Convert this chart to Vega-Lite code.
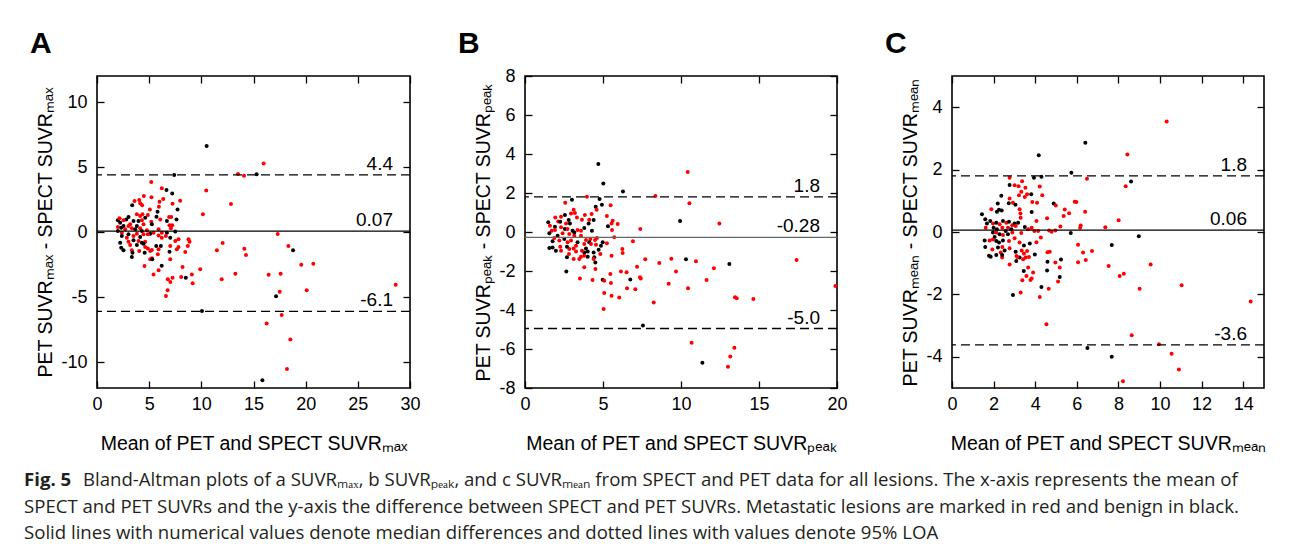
{
"$schema":"https://vega.github.io/schema/vega-lite/v6.json",
"background":"white",
"padding":{"left":24,"top":28,"right":5,"bottom":0},
"config":{
 "view":{"stroke":"#000","strokeWidth":1.6},
 "axis":{"grid":false,"domain":false,"ticks":true,"tickSize":-7,"tickWidth":1.3,"tickColor":"#000","labelFont":"Liberation Sans","labelFontSize":18,"labelColor":"#000","labelFlush":false,"labelOverlap":false,"labelExpr":"replace(datum.label, '−', '-')","titleFont":"Liberation Sans","titleFontSize":19.5,"titleFontWeight":"normal","titleColor":"#000"},
 "axisX":{"labelPadding":14.5,"titlePadding":21},
 "axisY":{"labelPadding":17,"titlePadding":5.5},
 "title":{"font":"Liberation Sans","fontSize":30,"fontWeight":"bold","anchor":"start","frame":"group","dx":-67,"color":"#000","offset":16,"baseline":"alphabetic"}
},
"datasets":{
"A":[{"x":5.2,"y":3.85,"t":"M"},{"x":6.21,"y":3.36,"t":"M"},{"x":6.66,"y":3.23,"t":"B"},{"x":7.21,"y":2.97,"t":"B"},{"x":10.47,"y":3.2,"t":"M"},{"x":4.49,"y":2.77,"t":"M"},{"x":5.22,"y":2.67,"t":"M"},{"x":6.35,"y":2.54,"t":"M"},{"x":5.99,"y":2.33,"t":"M"},{"x":7.24,"y":2.18,"t":"M"},{"x":7.97,"y":2.41,"t":"M"},{"x":3.37,"y":2.05,"t":"B"},{"x":3.6,"y":2.38,"t":"M"},{"x":4.05,"y":2.46,"t":"M"},{"x":4.14,"y":2.21,"t":"M"},{"x":4.33,"y":2.05,"t":"M"},{"x":5.93,"y":1.95,"t":"M"},{"x":5.8,"y":1.56,"t":"B"},{"x":5.07,"y":1.74,"t":"M"},{"x":7.72,"y":1.74,"t":"B"},{"x":10.15,"y":1.36,"t":"M"},{"x":7.62,"y":0.97,"t":"B"},{"x":5.7,"y":1.18,"t":"B"},{"x":6.92,"y":1.15,"t":"M"},{"x":7.11,"y":1.15,"t":"M"},{"x":6.06,"y":0.97,"t":"M"},{"x":4.87,"y":1.31,"t":"M"},{"x":4.36,"y":1.36,"t":"M"},{"x":3.82,"y":1.36,"t":"M"},{"x":4.14,"y":1.23,"t":"M"},{"x":3.02,"y":1.15,"t":"B"},{"x":2.8,"y":0.97,"t":"B"},{"x":2.54,"y":0.9,"t":"M"},{"x":2.0,"y":0.9,"t":"B"},{"x":2.16,"y":1.05,"t":"M"},{"x":2.22,"y":0.72,"t":"B"},{"x":3.18,"y":0.59,"t":"M"},{"x":3.5,"y":0.85,"t":"B"},{"x":3.98,"y":0.85,"t":"B"},{"x":4.3,"y":0.9,"t":"M"},{"x":4.62,"y":1.1,"t":"B"},{"x":5.2,"y":0.79,"t":"M"},{"x":5.26,"y":0.59,"t":"B"},{"x":4.46,"y":0.59,"t":"M"},{"x":3.82,"y":0.46,"t":"B"},{"x":3.02,"y":0.46,"t":"M"},{"x":2.54,"y":0.46,"t":"B"},{"x":2.0,"y":0.38,"t":"M"},{"x":2.32,"y":0.33,"t":"B"},{"x":2.7,"y":0.21,"t":"M"},{"x":3.34,"y":0.28,"t":"M"},{"x":3.66,"y":0.21,"t":"B"},{"x":4.14,"y":0.28,"t":"M"},{"x":4.3,"y":0.08,"t":"B"},{"x":4.78,"y":0.13,"t":"M"},{"x":5.9,"y":0.21,"t":"M"},{"x":6.7,"y":0.85,"t":"B"},{"x":6.95,"y":0.51,"t":"M"},{"x":7.21,"y":0.51,"t":"M"},{"x":7.5,"y":0.03,"t":"B"},{"x":7.08,"y":0.28,"t":"M"},{"x":6.7,"y":-0.05,"t":"B"},{"x":6.21,"y":-0.05,"t":"M"},{"x":5.42,"y":-0.05,"t":"M"},{"x":5.1,"y":-0.13,"t":"B"},{"x":4.46,"y":-0.18,"t":"M"},{"x":3.82,"y":-0.13,"t":"M"},{"x":3.02,"y":-0.18,"t":"B"},{"x":2.38,"y":-0.05,"t":"M"},{"x":2.0,"y":0.08,"t":"B"},{"x":2.38,"y":-0.31,"t":"B"},{"x":2.86,"y":-0.44,"t":"M"},{"x":3.5,"y":-0.31,"t":"M"},{"x":4.14,"y":-0.38,"t":"B"},{"x":4.87,"y":-0.18,"t":"M"},{"x":5.9,"y":-0.26,"t":"M"},{"x":6.6,"y":-0.31,"t":"M"},{"x":6.21,"y":-0.44,"t":"M"},{"x":7.02,"y":-0.44,"t":"B"},{"x":7.5,"y":-0.69,"t":"M"},{"x":7.81,"y":-0.56,"t":"M"},{"x":2.22,"y":-0.82,"t":"B"},{"x":3.02,"y":-0.75,"t":"M"},{"x":3.5,"y":-0.64,"t":"B"},{"x":3.98,"y":-0.69,"t":"M"},{"x":4.3,"y":-0.82,"t":"B"},{"x":4.62,"y":-0.75,"t":"M"},{"x":3.18,"y":-1.0,"t":"M"},{"x":3.82,"y":-1.0,"t":"B"},{"x":4.46,"y":-0.9,"t":"B"},{"x":2.32,"y":-1.21,"t":"B"},{"x":2.54,"y":-1.41,"t":"B"},{"x":3.34,"y":-1.41,"t":"M"},{"x":3.4,"y":-1.59,"t":"B"},{"x":4.05,"y":-1.46,"t":"M"},{"x":3.34,"y":-1.92,"t":"B"},{"x":4.62,"y":-1.15,"t":"M"},{"x":4.87,"y":-1.26,"t":"M"},{"x":5.1,"y":-1.46,"t":"M"},{"x":5.68,"y":-1.08,"t":"B"},{"x":6.12,"y":-1.08,"t":"B"},{"x":5.9,"y":-1.33,"t":"M"},{"x":5.26,"y":-1.38,"t":"M"},{"x":7.02,"y":-1.08,"t":"M"},{"x":6.95,"y":-1.51,"t":"B"},{"x":7.65,"y":-1.33,"t":"M"},{"x":7.81,"y":-1.15,"t":"M"},{"x":8.77,"y":-0.56,"t":"M"},{"x":8.87,"y":-0.75,"t":"M"},{"x":8.7,"y":-1.08,"t":"M"},{"x":8.46,"y":-1.54,"t":"M"},{"x":5.83,"y":-1.72,"t":"M"},{"x":5.1,"y":-2.1,"t":"M"},{"x":5.26,"y":-2.02,"t":"M"},{"x":7.02,"y":-2.1,"t":"M"},{"x":4.55,"y":-2.62,"t":"M"},{"x":5.9,"y":-2.95,"t":"M"},{"x":5.42,"y":-3.26,"t":"M"},{"x":6.79,"y":-3.64,"t":"M"},{"x":8.2,"y":-2.69,"t":"M"},{"x":9.09,"y":-3.26,"t":"M"},{"x":9.89,"y":-2.87,"t":"M"},{"x":11.49,"y":-1.41,"t":"M"},{"x":8.51,"y":-3.51,"t":"B"},{"x":7.24,"y":-3.51,"t":"M"},{"x":8.07,"y":-3.46,"t":"M"},{"x":7.4,"y":4.38,"t":"B"},{"x":6.2,"y":-2.59,"t":"B"},{"x":5.3,"y":-2.1,"t":"B"},{"x":4.57,"y":-1.59,"t":"B"},{"x":10.51,"y":6.62,"t":"B"},{"x":15.3,"y":4.44,"t":"B"},{"x":18.79,"y":-1.41,"t":"B"},{"x":17.16,"y":-4.95,"t":"B"},{"x":10.06,"y":-6.08,"t":"B"},{"x":15.85,"y":-11.41,"t":"B"},{"x":15.97,"y":5.26,"t":"M"},{"x":13.51,"y":4.46,"t":"M"},{"x":14.09,"y":4.33,"t":"M"},{"x":17.32,"y":-0.15,"t":"M"},{"x":18.34,"y":-1.08,"t":"M"},{"x":19.58,"y":-2.51,"t":"M"},{"x":20.73,"y":-2.44,"t":"M"},{"x":28.63,"y":-4.05,"t":"M"},{"x":20.1,"y":-4.49,"t":"M"},{"x":17.6,"y":-3.21,"t":"M"},{"x":16.45,"y":-3.28,"t":"M"},{"x":17.51,"y":-4.59,"t":"M"},{"x":17.7,"y":-6.38,"t":"M"},{"x":16.26,"y":-7.03,"t":"M"},{"x":18.53,"y":-8.26,"t":"M"},{"x":18.21,"y":-10.54,"t":"M"},{"x":14.12,"y":-1.28,"t":"M"},{"x":14.28,"y":-1.77,"t":"M"},{"x":13.26,"y":-3.21,"t":"M"},{"x":12.04,"y":-0.85,"t":"M"},{"x":11.95,"y":-3.64,"t":"M"},{"x":12.84,"y":2.15,"t":"M"},{"x":9.17,"y":-3.95,"t":"M"},{"x":6.77,"y":-4.49,"t":"M"},{"x":6.61,"y":-4.92,"t":"M"},{"x":7.03,"y":-3.85,"t":"M"}],
"B":[{"x":5.02,"y":2.49,"t":"B"},{"x":6.28,"y":2.08,"t":"B"},{"x":3.01,"y":1.66,"t":"B"},{"x":3.97,"y":1.81,"t":"M"},{"x":4.78,"y":1.69,"t":"B"},{"x":4.93,"y":1.4,"t":"B"},{"x":5.49,"y":1.37,"t":"M"},{"x":4.53,"y":1.3,"t":"B"},{"x":2.58,"y":1.5,"t":"M"},{"x":3.12,"y":1.14,"t":"M"},{"x":3.2,"y":0.97,"t":"M"},{"x":2.95,"y":0.95,"t":"M"},{"x":2.56,"y":0.87,"t":"B"},{"x":2.31,"y":0.78,"t":"M"},{"x":3.33,"y":0.75,"t":"M"},{"x":3.84,"y":0.87,"t":"M"},{"x":4.27,"y":0.92,"t":"M"},{"x":4.59,"y":1.14,"t":"M"},{"x":4.4,"y":0.61,"t":"B"},{"x":4.12,"y":0.63,"t":"M"},{"x":3.65,"y":0.63,"t":"M"},{"x":4.08,"y":0.44,"t":"B"},{"x":5.25,"y":0.82,"t":"M"},{"x":5.32,"y":0.3,"t":"B"},{"x":5.62,"y":0.58,"t":"M"},{"x":5.55,"y":0.44,"t":"M"},{"x":5.94,"y":0.41,"t":"M"},{"x":5.58,"y":0.1,"t":"M"},{"x":2.8,"y":0.61,"t":"B"},{"x":2.63,"y":0.44,"t":"M"},{"x":2.88,"y":0.44,"t":"B"},{"x":1.94,"y":0.75,"t":"M"},{"x":2.13,"y":0.54,"t":"M"},{"x":1.49,"y":0.5,"t":"B"},{"x":2.26,"y":0.52,"t":"B"},{"x":1.92,"y":0.27,"t":"B"},{"x":1.6,"y":0.32,"t":"M"},{"x":1.71,"y":0.07,"t":"M"},{"x":1.56,"y":-0.07,"t":"B"},{"x":1.92,"y":0.1,"t":"M"},{"x":2.31,"y":0.24,"t":"M"},{"x":2.56,"y":0.15,"t":"B"},{"x":2.73,"y":0.15,"t":"M"},{"x":3.05,"y":0.07,"t":"B"},{"x":3.37,"y":0.1,"t":"M"},{"x":3.59,"y":0.07,"t":"M"},{"x":3.8,"y":0.2,"t":"B"},{"x":4.29,"y":0.07,"t":"B"},{"x":2.41,"y":-0.07,"t":"M"},{"x":2.84,"y":-0.1,"t":"M"},{"x":3.16,"y":-0.19,"t":"M"},{"x":3.16,"y":-0.02,"t":"B"},{"x":3.59,"y":-0.19,"t":"M"},{"x":3.91,"y":-0.41,"t":"M"},{"x":4.19,"y":-0.36,"t":"M"},{"x":4.49,"y":-0.41,"t":"M"},{"x":4.61,"y":-0.31,"t":"M"},{"x":5.72,"y":-0.27,"t":"M"},{"x":6.92,"y":-0.48,"t":"M"},{"x":2.09,"y":-0.19,"t":"B"},{"x":1.88,"y":-0.31,"t":"M"},{"x":1.77,"y":-0.48,"t":"B"},{"x":2.2,"y":-0.44,"t":"M"},{"x":2.52,"y":-0.36,"t":"B"},{"x":2.73,"y":-0.53,"t":"M"},{"x":2.95,"y":-0.44,"t":"M"},{"x":3.37,"y":-0.53,"t":"B"},{"x":3.27,"y":-0.7,"t":"M"},{"x":3.8,"y":-0.62,"t":"M"},{"x":4.12,"y":-0.53,"t":"B"},{"x":4.23,"y":-0.62,"t":"M"},{"x":4.55,"y":-0.65,"t":"M"},{"x":4.98,"y":-0.53,"t":"B"},{"x":5.25,"y":-0.58,"t":"M"},{"x":4.87,"y":-0.7,"t":"B"},{"x":4.72,"y":-0.91,"t":"B"},{"x":4.83,"y":-1.13,"t":"M"},{"x":4.4,"y":-1.05,"t":"B"},{"x":4.02,"y":-1.0,"t":"B"},{"x":3.91,"y":-0.84,"t":"B"},{"x":3.8,"y":-1.05,"t":"B"},{"x":3.65,"y":-0.96,"t":"M"},{"x":3.12,"y":-0.84,"t":"M"},{"x":3.27,"y":-1.0,"t":"M"},{"x":2.84,"y":-0.87,"t":"M"},{"x":2.69,"y":-0.75,"t":"B"},{"x":2.26,"y":-0.75,"t":"M"},{"x":1.56,"y":-0.82,"t":"B"},{"x":1.77,"y":-0.79,"t":"B"},{"x":1.98,"y":-0.96,"t":"B"},{"x":2.31,"y":-0.96,"t":"M"},{"x":2.82,"y":-1.13,"t":"M"},{"x":2.69,"y":-1.3,"t":"B"},{"x":3.12,"y":-1.39,"t":"M"},{"x":4.44,"y":-1.3,"t":"B"},{"x":4.51,"y":-1.56,"t":"B"},{"x":4.02,"y":-1.27,"t":"B"},{"x":3.48,"y":-1.39,"t":"M"},{"x":3.59,"y":-1.27,"t":"M"},{"x":3.8,"y":-1.22,"t":"M"},{"x":4.4,"y":-1.39,"t":"M"},{"x":5.55,"y":-1.22,"t":"M"},{"x":6.24,"y":-0.87,"t":"M"},{"x":6.26,"y":-1.08,"t":"M"},{"x":2.65,"y":-2.02,"t":"B"},{"x":3.8,"y":-1.81,"t":"M"},{"x":4.51,"y":-1.9,"t":"M"},{"x":5.47,"y":-2.15,"t":"M"},{"x":6.15,"y":-2.02,"t":"M"},{"x":6.75,"y":-2.43,"t":"B"},{"x":6.51,"y":-2.07,"t":"M"},{"x":7.37,"y":-2.32,"t":"M"},{"x":3.52,"y":-2.39,"t":"M"},{"x":4.33,"y":-2.46,"t":"M"},{"x":4.98,"y":-2.45,"t":"B"},{"x":5.08,"y":-2.5,"t":"M"},{"x":5.51,"y":-2.62,"t":"M"},{"x":6.54,"y":-2.88,"t":"M"},{"x":7.07,"y":-2.93,"t":"M"},{"x":5.08,"y":-3.13,"t":"M"},{"x":5.55,"y":-3.27,"t":"M"},{"x":6.04,"y":-3.36,"t":"M"},{"x":7.39,"y":0.15,"t":"M"},{"x":4.7,"y":3.49,"t":"B"},{"x":8.36,"y":1.85,"t":"M"},{"x":10.43,"y":3.08,"t":"M"},{"x":10.54,"y":1.47,"t":"M"},{"x":9.94,"y":0.56,"t":"B"},{"x":12.46,"y":0.43,"t":"M"},{"x":17.41,"y":-1.44,"t":"M"},{"x":7.71,"y":-1.4,"t":"M"},{"x":8.61,"y":-1.59,"t":"M"},{"x":9.38,"y":-1.37,"t":"M"},{"x":10.32,"y":-1.4,"t":"B"},{"x":10.96,"y":-1.5,"t":"M"},{"x":12.11,"y":-1.86,"t":"M"},{"x":13.1,"y":-1.64,"t":"B"},{"x":9.68,"y":-2.03,"t":"M"},{"x":9.21,"y":-2.65,"t":"M"},{"x":10.45,"y":-2.89,"t":"M"},{"x":11.64,"y":-2.46,"t":"M"},{"x":8.25,"y":-3.61,"t":"M"},{"x":13.46,"y":-3.35,"t":"M"},{"x":13.57,"y":-3.4,"t":"M"},{"x":14.64,"y":-3.44,"t":"M"},{"x":7.56,"y":-4.79,"t":"B"},{"x":5.04,"y":-3.95,"t":"M"},{"x":7.18,"y":-1.78,"t":"M"},{"x":7.42,"y":-2.39,"t":"M"},{"x":10.68,"y":-5.68,"t":"M"},{"x":13.42,"y":-5.93,"t":"M"},{"x":13.16,"y":-6.38,"t":"M"},{"x":13.01,"y":-6.91,"t":"M"},{"x":11.37,"y":-6.7,"t":"B"},{"x":19.9,"y":-2.77,"t":"M"}],
"C":[{"x":5.74,"y":1.9,"t":"B"},{"x":2.77,"y":1.74,"t":"M"},{"x":3.94,"y":1.74,"t":"B"},{"x":4.3,"y":1.77,"t":"B"},{"x":3.37,"y":1.63,"t":"M"},{"x":2.77,"y":1.51,"t":"B"},{"x":3.01,"y":1.5,"t":"M"},{"x":3.2,"y":1.47,"t":"M"},{"x":4.22,"y":1.46,"t":"M"},{"x":3.53,"y":1.42,"t":"M"},{"x":3.33,"y":1.29,"t":"M"},{"x":3.22,"y":1.18,"t":"M"},{"x":3.61,"y":1.21,"t":"M"},{"x":3.81,"y":1.21,"t":"B"},{"x":3.5,"y":1.12,"t":"M"},{"x":4.34,"y":1.18,"t":"M"},{"x":2.37,"y":1.16,"t":"B"},{"x":2.77,"y":1.07,"t":"M"},{"x":2.73,"y":0.92,"t":"B"},{"x":2.2,"y":0.91,"t":"B"},{"x":2.26,"y":0.71,"t":"B"},{"x":2.39,"y":0.69,"t":"B"},{"x":2.16,"y":0.65,"t":"B"},{"x":2.93,"y":0.94,"t":"M"},{"x":3.05,"y":0.87,"t":"B"},{"x":3.25,"y":0.73,"t":"M"},{"x":3.29,"y":0.59,"t":"M"},{"x":3.3,"y":0.46,"t":"M"},{"x":3.83,"y":0.64,"t":"B"},{"x":3.86,"y":0.96,"t":"M"},{"x":4.09,"y":0.94,"t":"M"},{"x":4.89,"y":0.91,"t":"B"},{"x":4.99,"y":0.85,"t":"M"},{"x":5.42,"y":0.72,"t":"M"},{"x":5.63,"y":0.6,"t":"M"},{"x":5.37,"y":0.51,"t":"M"},{"x":5.9,"y":0.97,"t":"M"},{"x":4.57,"y":0.44,"t":"M"},{"x":4.06,"y":0.35,"t":"M"},{"x":5.21,"y":0.18,"t":"M"},{"x":4.67,"y":0.05,"t":"M"},{"x":4.79,"y":0.01,"t":"M"},{"x":4.97,"y":0.05,"t":"M"},{"x":3.96,"y":0.03,"t":"M"},{"x":4.14,"y":0.03,"t":"M"},{"x":3.83,"y":0.14,"t":"M"},{"x":3.66,"y":0.09,"t":"M"},{"x":3.5,"y":0.16,"t":"B"},{"x":3.33,"y":-0.03,"t":"M"},{"x":5.71,"y":-0.03,"t":"B"},{"x":1.44,"y":0.57,"t":"B"},{"x":1.6,"y":0.41,"t":"B"},{"x":1.89,"y":0.73,"t":"M"},{"x":1.84,"y":0.35,"t":"B"},{"x":1.68,"y":0.27,"t":"B"},{"x":1.97,"y":0.27,"t":"M"},{"x":2.13,"y":0.3,"t":"B"},{"x":2.29,"y":0.25,"t":"M"},{"x":2.45,"y":0.35,"t":"B"},{"x":2.61,"y":0.3,"t":"M"},{"x":2.74,"y":0.33,"t":"B"},{"x":2.9,"y":0.22,"t":"M"},{"x":3.01,"y":0.27,"t":"B"},{"x":3.18,"y":0.3,"t":"B"},{"x":1.62,"y":0.14,"t":"M"},{"x":2.0,"y":0.14,"t":"B"},{"x":2.16,"y":0.09,"t":"B"},{"x":2.42,"y":0.14,"t":"M"},{"x":2.58,"y":0.03,"t":"B"},{"x":2.69,"y":0.14,"t":"M"},{"x":2.85,"y":0.09,"t":"B"},{"x":3.06,"y":0.19,"t":"M"},{"x":1.97,"y":-0.02,"t":"B"},{"x":2.13,"y":-0.02,"t":"M"},{"x":2.29,"y":-0.07,"t":"B"},{"x":2.45,"y":-0.1,"t":"M"},{"x":2.69,"y":-0.07,"t":"B"},{"x":2.9,"y":-0.02,"t":"M"},{"x":2.05,"y":-0.16,"t":"B"},{"x":1.97,"y":-0.24,"t":"M"},{"x":2.13,"y":-0.29,"t":"B"},{"x":2.26,"y":-0.34,"t":"B"},{"x":1.57,"y":-0.27,"t":"B"},{"x":1.81,"y":-0.27,"t":"M"},{"x":2.45,"y":-0.27,"t":"B"},{"x":2.74,"y":-0.29,"t":"M"},{"x":3.01,"y":-0.2,"t":"M"},{"x":3.25,"y":-0.34,"t":"M"},{"x":3.46,"y":-0.43,"t":"B"},{"x":3.74,"y":-0.37,"t":"B"},{"x":4.06,"y":-0.33,"t":"M"},{"x":4.27,"y":-0.18,"t":"M"},{"x":1.6,"y":-0.48,"t":"B"},{"x":1.94,"y":-0.56,"t":"M"},{"x":2.21,"y":-0.5,"t":"B"},{"x":2.42,"y":-0.48,"t":"M"},{"x":2.53,"y":-0.59,"t":"B"},{"x":2.34,"y":-0.66,"t":"M"},{"x":2.77,"y":-0.52,"t":"M"},{"x":3.06,"y":-0.63,"t":"B"},{"x":3.1,"y":-0.77,"t":"M"},{"x":3.35,"y":-0.59,"t":"M"},{"x":3.46,"y":-0.69,"t":"M"},{"x":3.61,"y":-0.61,"t":"M"},{"x":3.98,"y":-0.72,"t":"B"},{"x":4.59,"y":-0.65,"t":"M"},{"x":4.7,"y":-0.63,"t":"M"},{"x":1.78,"y":-0.76,"t":"B"},{"x":1.86,"y":-0.79,"t":"B"},{"x":2.13,"y":-0.74,"t":"B"},{"x":2.41,"y":-0.82,"t":"M"},{"x":2.41,"y":-0.74,"t":"B"},{"x":3.25,"y":-0.82,"t":"B"},{"x":3.14,"y":-0.8,"t":"M"},{"x":3.42,"y":-0.87,"t":"M"},{"x":3.54,"y":-0.82,"t":"M"},{"x":3.7,"y":-0.8,"t":"M"},{"x":3.09,"y":-0.93,"t":"B"},{"x":2.77,"y":-1.04,"t":"M"},{"x":3.66,"y":-1.14,"t":"M"},{"x":4.59,"y":-0.95,"t":"B"},{"x":4.97,"y":-0.98,"t":"M"},{"x":5.24,"y":-0.88,"t":"B"},{"x":5.18,"y":-1.14,"t":"M"},{"x":4.57,"y":-1.23,"t":"B"},{"x":3.45,"y":-1.25,"t":"B"},{"x":3.9,"y":-1.3,"t":"M"},{"x":3.58,"y":-1.41,"t":"M"},{"x":3.83,"y":-1.49,"t":"M"},{"x":3.77,"y":-1.54,"t":"M"},{"x":3.38,"y":-1.55,"t":"M"},{"x":5.18,"y":-1.44,"t":"B"},{"x":5.1,"y":-1.59,"t":"M"},{"x":4.3,"y":-1.76,"t":"B"},{"x":4.65,"y":-1.82,"t":"M"},{"x":3.3,"y":-1.94,"t":"M"},{"x":2.93,"y":-2.02,"t":"B"},{"x":4.22,"y":-2.08,"t":"M"},{"x":4.17,"y":2.46,"t":"B"},{"x":6.41,"y":2.86,"t":"B"},{"x":10.32,"y":3.54,"t":"M"},{"x":8.43,"y":2.48,"t":"M"},{"x":8.35,"y":1.47,"t":"M"},{"x":8.61,"y":1.62,"t":"B"},{"x":6.49,"y":1.71,"t":"M"},{"x":6.4,"y":0.65,"t":"M"},{"x":5.98,"y":0.96,"t":"M"},{"x":6.19,"y":0.21,"t":"M"},{"x":6.16,"y":0.14,"t":"M"},{"x":7.37,"y":0.15,"t":"M"},{"x":8.01,"y":0.38,"t":"M"},{"x":8.98,"y":-0.14,"t":"B"},{"x":6.06,"y":-0.41,"t":"M"},{"x":7.68,"y":-0.42,"t":"B"},{"x":6.3,"y":-0.66,"t":"M"},{"x":6.73,"y":-0.61,"t":"M"},{"x":6.06,"y":-0.97,"t":"M"},{"x":6.43,"y":-0.9,"t":"M"},{"x":7.53,"y":-1.09,"t":"M"},{"x":8.06,"y":-1.41,"t":"M"},{"x":8.26,"y":-1.34,"t":"M"},{"x":9.55,"y":-1.04,"t":"M"},{"x":9.02,"y":-1.82,"t":"M"},{"x":11.04,"y":-1.71,"t":"M"},{"x":14.36,"y":-2.23,"t":"M"},{"x":4.54,"y":-2.96,"t":"M"},{"x":8.64,"y":-3.31,"t":"M"},{"x":6.51,"y":-3.72,"t":"B"},{"x":7.68,"y":-4.0,"t":"B"},{"x":9.95,"y":-3.6,"t":"M"},{"x":10.56,"y":-3.9,"t":"M"},{"x":10.91,"y":-4.41,"t":"M"},{"x":8.22,"y":-4.78,"t":"M"}],
"LA":[{"v":4.4,"kind":"LOA","label":"4.4"},{"v":0.07,"kind":"median","label":"0.07"},{"v":-6.1,"kind":"LOA","label":"-6.1"}],
"LB":[{"v":1.8,"kind":"LOA","label":"1.8"},{"v":-0.28,"kind":"median","label":"-0.28"},{"v":-4.95,"kind":"LOA","label":"-5.0"}],
"LC":[{"v":1.8,"kind":"LOA","label":"1.8"},{"v":0.06,"kind":"median","label":"0.06"},{"v":-3.62,"kind":"LOA","label":"-3.6"}],
"CAP1":[{"line":1,"text":"Fig. 5"}],
"CAP2":[{"line":1,"text":"Bland-Altman plots of a SUVRₘₐₓ, b SUVRₚₑₐₖ, and c SUVRₘₑₐₙ from SPECT and PET data for all lesions. The x-axis represents the mean of"}],
"CAP3":[{"line":2,"text":"SPECT and PET SUVRs and the y-axis the difference between SPECT and PET SUVRs. Metastatic lesions are marked in red and benign in black."},{"line":3,"text":"Solid lines with numerical values denote median differences and dotted lines with values denote 95% LOA"}]
},
"vconcat":[
{"hconcat":[
 {"width":313,"height":312,"title":{"text":"A"},
  "layer":[
   {"data":{"name":"A"},"mark":{"type":"circle","size":16,"opacity":1},
    "encoding":{
     "x":{"field":"x","type":"quantitative","scale":{"domain":[0,30],"nice":false,"zero":false},"axis":{"values":[0,5,10,15,20,25,30],"title":"Mean of PET and SPECT SUVRₘₐₓ"}},
     "y":{"field":"y","type":"quantitative","scale":{"domain":[-12,12],"nice":false,"zero":false},"axis":{"values":[-10,-5,0,5,10],"title":"PET SUVRₘₐₓ - SPECT SUVRₘₐₓ"}},
     "color":{"field":"t","type":"nominal","scale":{"domain":["M","B"],"range":["#ff0000","#000000"]},"legend":null}}},
   {"data":{"name":"LA"},"mark":{"type":"rule","strokeWidth":1.3,"color":"#000"},
    "encoding":{"y":{"field":"v","type":"quantitative","axis":null},
     "strokeDash":{"field":"kind","type":"nominal","scale":{"domain":["median","LOA"],"range":[[1,0],[9,5]]},"legend":null}}},
   {"data":{"name":"LA"},"mark":{"type":"text","align":"right","baseline":"alphabetic","dx":-17,"dy":-5,"font":"Liberation Sans","fontSize":19,"color":"#000"},
    "encoding":{"x":{"datum":30,"type":"quantitative","axis":{"orient":"top","labels":false,"values":[0,5,10,15,20,25,30],"title":null}},
     "y":{"field":"v","type":"quantitative","axis":{"orient":"right","labels":false,"values":[-10,-5,0,5,10],"title":null}},
     "text":{"field":"label"}}}
  ],
  "resolve":{"axis":{"x":"independent","y":"independent"}}},
 {"width":312,"height":312,"title":{"text":"B","offset":8},
  "layer":[
   {"data":{"name":"B"},"mark":{"type":"circle","size":16,"opacity":1},
    "encoding":{
     "x":{"field":"x","type":"quantitative","scale":{"domain":[0,20],"nice":false,"zero":false},"axis":{"values":[0,5,10,15,20],"title":"Mean of PET and SPECT SUVRₚₑₐₖ"}},
     "y":{"field":"y","type":"quantitative","scale":{"domain":[-8,8],"nice":false,"zero":false},"axis":{"values":[-8,-6,-4,-2,0,2,4,6,8],"title":"PET SUVRₚₑₐₖ - SPECT SUVRₚₑₐₖ"}},
     "color":{"field":"t","type":"nominal","scale":{"domain":["M","B"],"range":["#ff0000","#000000"]},"legend":null}}},
   {"data":{"name":"LB"},"mark":{"type":"rule","strokeWidth":1.3},
    "encoding":{"y":{"field":"v","type":"quantitative","axis":null},
     "stroke":{"field":"kind","type":"nominal","scale":{"domain":["median","LOA"],"range":["#666666","#000000"]},"legend":null},
     "strokeDash":{"field":"kind","type":"nominal","scale":{"domain":["median","LOA"],"range":[[1,0],[9,5]]},"legend":null}}},
   {"data":{"name":"LB"},"mark":{"type":"text","align":"right","baseline":"alphabetic","dx":-17,"dy":-5,"font":"Liberation Sans","fontSize":19,"color":"#000"},
    "encoding":{"x":{"datum":20,"type":"quantitative","axis":{"orient":"top","labels":false,"values":[0,5,10,15,20],"title":null}},
     "y":{"field":"v","type":"quantitative","axis":{"orient":"right","labels":false,"values":[-8,-6,-4,-2,0,2,4,6,8],"title":null}},
     "text":{"field":"label"}}}
  ],
  "resolve":{"axis":{"x":"independent","y":"independent"}}},
 {"width":312,"height":312,"title":{"text":"C"},
  "layer":[
   {"data":{"name":"C"},"mark":{"type":"circle","size":16,"opacity":1},
    "encoding":{
     "x":{"field":"x","type":"quantitative","scale":{"domain":[0,15],"nice":false,"zero":false},"axis":{"values":[0,2,4,6,8,10,12,14],"title":"Mean of PET and SPECT SUVRₘₑₐₙ"}},
     "y":{"field":"y","type":"quantitative","scale":{"domain":[-5,5],"nice":false,"zero":false},"axis":{"values":[-4,-2,0,2,4],"title":"PET SUVRₘₑₐₙ - SPECT SUVRₘₑₐₙ"}},
     "color":{"field":"t","type":"nominal","scale":{"domain":["M","B"],"range":["#ff0000","#000000"]},"legend":null}}},
   {"data":{"name":"LC"},"mark":{"type":"rule","strokeWidth":1.3,"color":"#000"},
    "encoding":{"y":{"field":"v","type":"quantitative","axis":null},
     "strokeDash":{"field":"kind","type":"nominal","scale":{"domain":["median","LOA"],"range":[[1,0],[9,5]]},"legend":null}}},
   {"data":{"name":"LC"},"mark":{"type":"text","align":"right","baseline":"alphabetic","dx":-17,"dy":-5,"font":"Liberation Sans","fontSize":19,"color":"#000"},
    "encoding":{"x":{"datum":15,"type":"quantitative","axis":{"orient":"top","labels":false,"values":[0,2,4,6,8,10,12,14],"title":null}},
     "y":{"field":"v","type":"quantitative","axis":{"orient":"right","labels":false,"values":[-4,-2,0,2,4],"title":null}},
     "text":{"field":"label"}}}
  ],
  "resolve":{"axis":{"x":"independent","y":"independent"}}}
 ],
 "spacing":115,"bounds":"flush"},
{"width":1150,"height":79.5,"view":{"stroke":null},
 "layer":[
  {"data":{"name":"CAP1"},"mark":{"type":"text","align":"left","baseline":"alphabetic","dx":-73,"font":"Open Sans","fontSize":18.6,"fontWeight":"bold","color":"#231f20"},
   "encoding":{"x":{"datum":0,"type":"quantitative","scale":{"domain":[0,1]},"axis":null},"y":{"field":"line","type":"ordinal","scale":{"domain":[1,2,3]},"axis":null},"text":{"field":"text"}}},
  {"data":{"name":"CAP2"},"mark":{"type":"text","align":"left","baseline":"alphabetic","dx":-14,"font":"Open Sans","fontSize":18.6,"color":"#231f20"},
   "encoding":{"x":{"datum":0,"type":"quantitative"},"y":{"field":"line","type":"ordinal"},"text":{"field":"text"}}},
  {"data":{"name":"CAP3"},"mark":{"type":"text","align":"left","baseline":"alphabetic","dx":-73,"font":"Open Sans","fontSize":18.6,"color":"#231f20"},
   "encoding":{"x":{"datum":0,"type":"quantitative"},"y":{"field":"line","type":"ordinal"},"text":{"field":"text"}}}
 ]}
],
"spacing":17
}
